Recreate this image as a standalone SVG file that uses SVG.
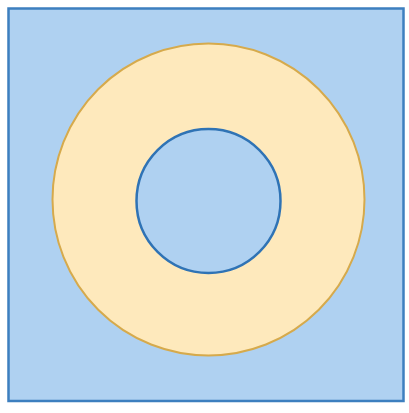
<svg xmlns="http://www.w3.org/2000/svg" width="409" height="413" viewBox="0 0 409 413">
<style>
.sq{fill:#afd1f1;stroke:#3d7fbf;stroke-width:2.5}
.ring{fill:#fee9bc;stroke:#d6aa4c;stroke-width:2}
.hole{fill:#afd1f1;stroke:#2f73b5;stroke-width:2.5}
</style>
<rect width="409" height="413" fill="#ffffff"/>
<g id="square"><rect class="sq" x="8.5" y="8.5" width="395" height="392.5"/></g>
<g id="outer-circle"><circle class="ring" cx="208.5" cy="199.5" r="156"/></g>
<g id="inner-circle"><circle class="hole" cx="208.5" cy="201" r="72"/></g>
<g id="connectors"/>
</svg>
